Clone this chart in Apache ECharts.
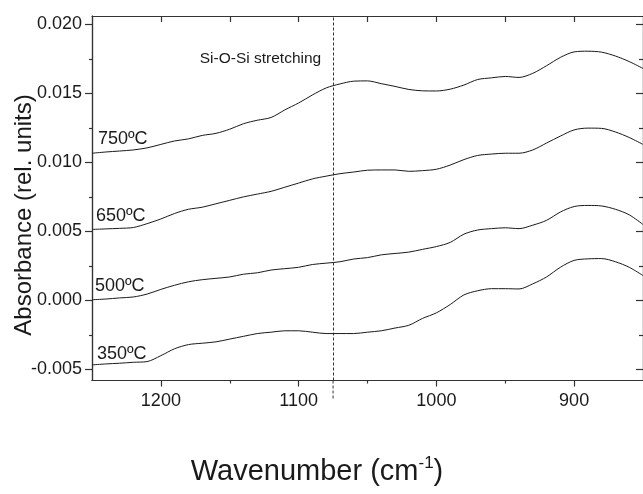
<!DOCTYPE html>
<html>
<head>
<meta charset="utf-8">
<script src="https://cdn.jsdelivr.net/npm/echarts@6/dist/echarts.min.js"></script>
<style>
  html, body { margin: 0; padding: 0; background: #fff; }
  #chart { width: 643px; height: 494px; }
</style>
</head>
<body>
<div id="chart"></div>
<script>
// wavenumbers (cm-1), read left to right
const wavenumbers = [1250, 1240, 1230, 1220, 1210, 1200, 1190, 1180, 1170, 1160, 1150, 1140, 1130, 1120, 1110, 1100,
  1090, 1080, 1070, 1060, 1050, 1040, 1030, 1020, 1010, 1000, 990, 980, 970, 960, 950, 940, 930, 920, 910, 900,
  890, 880, 870, 860, 850]

const abs750 = [0.01066, 0.01075, 0.01082, 0.0109, 0.01105, 0.0113, 0.01155, 0.0117, 0.01195, 0.0121, 0.0124, 0.0128,
  0.01305, 0.01325, 0.0138, 0.0143, 0.01488, 0.01539, 0.01568, 0.01588, 0.0159, 0.0157, 0.0155, 0.01528, 0.01518,
  0.01517, 0.0153, 0.0156, 0.016, 0.01612, 0.01622, 0.01615, 0.01645, 0.017, 0.0176, 0.018, 0.01805, 0.01798,
  0.0177, 0.0173, 0.0168]

const abs650 = [0.00514, 0.00518, 0.00522, 0.00528, 0.00556, 0.0059, 0.0063, 0.0066, 0.00675, 0.007, 0.00725, 0.0075,
  0.0077, 0.0079, 0.0082, 0.0085, 0.0088, 0.009, 0.00918, 0.0093, 0.00943, 0.00945, 0.00945, 0.00935, 0.0094,
  0.0095, 0.0098, 0.0102, 0.0105, 0.0106, 0.01066, 0.01066, 0.0109, 0.0114, 0.0119, 0.01235, 0.01248, 0.01246,
  0.0122, 0.0118, 0.0113]

const abs500 = [0.00005, 0.0001, 0.00018, 0.00025, 0.00046, 0.0008, 0.0011, 0.00135, 0.0015, 0.0016, 0.0017, 0.0019,
  0.002, 0.0022, 0.0023, 0.0024, 0.0026, 0.0027, 0.0028, 0.003, 0.0031, 0.0033, 0.0034, 0.0035, 0.0037, 0.0039,
  0.0042, 0.0048, 0.0051, 0.0052, 0.00526, 0.0052, 0.00545, 0.0058, 0.0064, 0.0068, 0.00688, 0.00684, 0.0066,
  0.0062, 0.0055]

const abs350 = [-0.00467, -0.0046, -0.00455, -0.00448, -0.00443, -0.004, -0.0035, -0.0032, -0.0031, -0.003, -0.0028,
  -0.0026, -0.0024, -0.0023, -0.0022, -0.0022, -0.0023, -0.0024, -0.0024, -0.0024, -0.0023, -0.0022, -0.002,
  -0.0018, -0.0013, -0.0009, -0.0003, 0.0004, 0.0007, 0.00085, 0.00085, 0.00083, 0.0012, 0.0017, 0.0024, 0.0029,
  0.00301, 0.00303, 0.0028, 0.0024, 0.0018]

const seriesNames = ['750ºC', '650ºC', '500ºC', '350ºC']
const xMajor = [1200, 1100, 1000, 900]
const xMinor = [1150, 1050, 950]
const xTop = [1200, 1150, 1100, 1050, 1000, 950, 900]
const yMajor = [-0.005, 0, 0.005, 0.010, 0.015, 0.020]
const yMinor = [-0.0025, 0.0025, 0.0075, 0.0125, 0.0175]
const bandPosition = 1075

const font = 'Liberation Sans, Arial, sans-serif'
const ink = '#1a1a1a'
const axisColor = '#333'

const pairs = vals => wavenumbers.map((w, i) => [w, vals[i]])

const xBase = { type: 'value', min: 850, max: 1250, inverse: true, splitLine: { show: false } }
const yBase = { type: 'value', min: -0.0058, max: 0.0206, splitLine: { show: false } }
const line = { show: true, onZero: false, lineStyle: { color: axisColor, width: 1.2 } }

const texts = [
  { type: 'text', x: 98, y: 138.7, style: { text: seriesNames[0], font: '18px ' + font, fill: ink, verticalAlign: 'middle' } },
  { type: 'text', x: 96, y: 215.7, style: { text: seriesNames[1], font: '18px ' + font, fill: ink, verticalAlign: 'middle' } },
  { type: 'text', x: 95, y: 286.4, style: { text: seriesNames[2], font: '18px ' + font, fill: ink, verticalAlign: 'middle' } },
  { type: 'text', x: 97, y: 353.7, style: { text: seriesNames[3], font: '18px ' + font, fill: ink, verticalAlign: 'middle' } },
  { type: 'text', x: 260.5, y: 58.6, style: { text: 'Si-O-Si stretching', font: '15.5px ' + font, fill: ink, align: 'center', verticalAlign: 'middle' } },
  {
    type: 'text', x: 317, y: 472,
    style: {
      text: '{a|Wavenumber (cm}{s|-1}{a|)}', align: 'center', verticalAlign: 'middle', fill: ink,
      rich: {
        a: { fontSize: 29, fontFamily: font, lineHeight: 34, fill: ink },
        s: { fontSize: 17, fontFamily: font, lineHeight: 17, verticalAlign: 'top', fill: ink }
      }
    }
  },
  {
    type: 'text', x: 24.6, y: 215, rotation: Math.PI / 2,
    style: { text: 'Absorbance (rel. units)', font: '24px ' + font, fill: ink, align: 'center', verticalAlign: 'middle' }
  }
]

let myChart = echarts.init(document.getElementById('chart'))
myChart.setOption({
  animation: false,
  grid: { left: 92, right: -2, top: 16, bottom: 113.5 },
  xAxis: [
    Object.assign({}, xBase, {
      position: 'bottom', axisLine: line,
      axisTick: { customValues: xMajor, length: 6, lineStyle: { color: axisColor, width: 1.2 } },
      axisLabel: { customValues: xMajor, fontSize: 18, fontFamily: font, color: ink, margin: 12, formatter: v => String(v) }
    }),
    Object.assign({}, xBase, {
      position: 'bottom', axisLine: line,
      axisTick: { customValues: xMinor, length: 3, lineStyle: { color: axisColor, width: 1.2 } },
      axisLabel: { show: false }
    }),
    Object.assign({}, xBase, {
      position: 'top', axisLine: line,
      axisTick: { customValues: xTop, inside: true, length: 6, lineStyle: { color: axisColor, width: 1.2 } },
      axisLabel: { show: false }
    })
  ],
  yAxis: [
    Object.assign({}, yBase, {
      position: 'left', axisLine: line,
      axisTick: { customValues: yMajor, length: 7, lineStyle: { color: axisColor, width: 1.2 } },
      axisLabel: {
        customValues: yMajor, fontSize: 18, fontFamily: font, color: ink, margin: 10,
        formatter: v => v.toFixed(3)
      }
    }),
    Object.assign({}, yBase, {
      position: 'left', axisLine: line,
      axisTick: { customValues: yMinor, length: 3, lineStyle: { color: axisColor, width: 1.2 } },
      axisLabel: { show: false }
    }),
    Object.assign({}, yBase, {
      position: 'right', axisLine: line,
      axisTick: { customValues: yMajor, inside: true, length: 7, lineStyle: { color: axisColor, width: 1.2 } },
      axisLabel: { show: false }
    }),
    Object.assign({}, yBase, {
      position: 'right', axisLine: line,
      axisTick: { customValues: yMinor, inside: true, length: 4, lineStyle: { color: axisColor, width: 1.2 } },
      axisLabel: { show: false }
    })
  ],
  series: [abs750, abs650, abs500, abs350].map((vals, i) => ({
    name: seriesNames[i],
    type: 'line',
    data: pairs(vals),
    showSymbol: false,
    smooth: 0.3,
    lineStyle: { color: ink, width: 1 },
    markLine: i === 0 ? {
      silent: true, symbol: 'none', label: { show: false },
      lineStyle: { color: axisColor, width: 1, type: [3, 2] },
      data: [{ xAxis: bandPosition }]
    } : undefined
  })),
  graphic: texts
})

// the dashed marker runs a little below the bottom axis
const bandX = myChart.convertToPixel({ xAxisIndex: 0 }, bandPosition)
const axisBottom = myChart.convertToPixel({ yAxisIndex: 0 }, -0.0058)
myChart.setOption({
  graphic: texts.concat([{
    type: 'line', shape: { x1: bandX, y1: axisBottom, x2: bandX, y2: axisBottom + 18 },
    style: { stroke: axisColor, lineWidth: 1, lineDash: [3, 2] }, silent: true
  }])
})
</script>
</body>
</html>
